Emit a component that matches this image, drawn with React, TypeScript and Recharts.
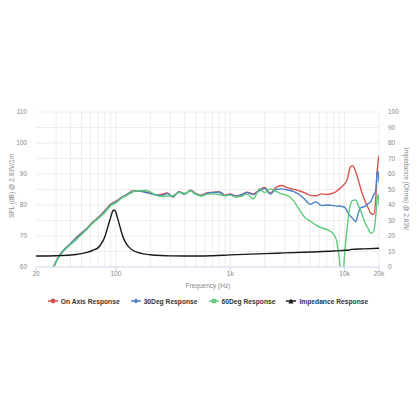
import React from 'react';
import {
  ComposedChart,
  Line,
  XAxis,
  YAxis,
  CartesianGrid,
} from 'recharts';

// frequency response samples (Hz) and SPL readings (dB)
const frFreq = [
  20, 22, 25, 28, 31, 35, 40, 45, 50, 56, 63, 71, 80, 90, 100, 112, 125, 140, 160, 180,
  200, 225, 250, 280, 315, 355, 400, 450, 500, 560, 630, 710, 800, 900, 1000, 1120, 1250,
  1400, 1600, 1800, 2000, 2240, 2500, 2800, 3150, 3550, 4000, 4500, 5000, 5600, 6300, 7100,
  8000, 8500, 9000, 9500, 10000, 10600, 11200, 11800, 12500, 13200, 14000, 15000, 16000,
  17000, 18000, 18700, 19300, 19700, 20000,
];
const onAxis = [
  49, 52, 56, 59.5, 62.8, 65.5, 67.5, 69.5, 71, 72.6, 74.6, 76.2, 78.2, 80.3, 81.2, 82.5, 83.4, 84.5, 84.6, 84.2,
  83.8, 83.2, 83.4, 83.9, 82.6, 84.3, 83.6, 84.8, 83.7, 83.2, 84.0, 84.1, 84.3, 83.2, 83.6, 82.9, 83.3,
  84.1, 83.6, 84.9, 85.7, 83.8, 85.6, 86.3, 85.6, 85.1, 84.6, 83.9, 83.1, 83.0, 83.6, 83.4,
  83.9, 84.4, 85.2, 86.0, 86.8, 88.5, 92.2, 92.7, 90.8, 88.0, 84.7, 81.5, 79.2,
  77.3, 77.0, 81.5, 91.0, 94.5, 96.0,
];
const deg30 = [
  49, 52, 56, 59.5, 62.8, 65.5, 67.5, 69.3, 70.8, 72.4, 74.4, 76, 77.9, 80.1, 81, 82.4, 83.3, 84.4, 84.5, 84.1,
  83.7, 83.3, 83.0, 83.7, 82.7, 84.2, 83.5, 84.7, 83.6, 83.0, 83.8, 84.0, 84.2, 83.0, 83.4, 82.8, 83.3,
  84.0, 83.4, 84.6, 85.3, 83.5, 85.0, 85.2, 84.9, 84.4, 83.4, 81.8, 80.2, 81.0, 79.8, 80.0,
  79.8, 79.6, 79.7, 79.5, 79.3, 77.8, 76.5, 75.6, 74.6, 77.5, 79.2, 79.5, 80.4,
  81.2, 83.3, 84.5, 90.5, 90.8, 87.4,
];
const deg60 = [
  48.5, 51.5, 55.5, 59.2, 62.5, 65.2, 67.2, 68.8, 70.5, 72.2, 74.2, 75.8, 77.6, 79.8, 80.7, 82.2, 83.1, 84.2, 84.6, 84.7,
  84.2, 83.1, 82.8, 82.9, 83.0, 84.0, 83.8, 84.5, 83.4, 82.9, 83.5, 83.6, 83.4, 83.0, 83.2, 82.6, 82.8,
  83.5, 82.0, 85.2, 84.0, 85.2, 84.5, 83.6, 83.1, 81.5, 78.6, 76.0, 74.8, 73.6, 72.6, 72.0,
  70.6, 68.5, 62.5, 53.0, 64.0, 73.5, 79.8, 81.5, 81.6, 79.8, 77.7, 74.5, 72.5,
  70.9, 71.5, 76.1, 82.5, 83.3, 79.8,
];

// impedance samples (Hz) and readings (Ohms)
const impFreq = [
  20, 30, 40, 45, 50, 56, 63, 70, 76, 80, 85, 90, 93, 96, 99, 103, 108, 114, 120, 130,
  140, 155, 170, 200, 250, 300, 400, 550, 700, 1000, 1500, 2000, 3000, 5000, 8000, 10000,
  11000, 11500, 15000, 20000,
];
const impedance = [
  7.1, 7.3, 7.7, 8.1, 8.6, 9.4, 10.8, 12.5, 16, 19.5, 26, 32, 35.5, 36.8, 36, 32, 26.5, 20.5, 16.5, 12.8,
  10.8, 9.4, 8.6, 7.9, 7.4, 7.2, 7.1, 7.1, 7.3, 7.8, 8.3, 8.6, 9.1, 9.7, 10.3, 10.8,
  11.0, 11.4, 11.7, 12.1,
];

const xTicks = [20, 100, 1000, 10000, 20000];
const splTicks = [60, 70, 80, 90, 100, 110];
const ohmTicks = [0, 10, 20, 30, 40, 50, 60, 70, 80, 90, 100];
const gridFreqs = [
  30, 40, 50, 60, 70, 80, 90, 100, 200, 300, 400, 500, 600, 700, 800, 900, 1000,
  2000, 3000, 4000, 5000, 6000, 7000, 8000, 9000, 10000, 20000,
];
const gridSpl = [65, 70, 75, 80, 85, 90, 95, 100, 105, 110];

const series = [
  { name: 'On Axis Response', color: '#d9534f', values: onAxis, shape: 'circle' },
  { name: '30Deg Response', color: '#4a80c6', values: deg30, shape: 'diamond' },
  { name: '60Deg Response', color: '#5ccb7a', values: deg60, shape: 'square' },
];
const impColor = '#1a1a1a';

const font = '"Liberation Sans", Arial, sans-serif';
const tickStyle = { fill: '#888', fontSize: 6.5, fontFamily: font };

const fmtFreq = (v: number) => (v >= 1000 ? `${v / 1000}k` : `${v}`);

const Marker = ({ color, shape }: { color: string; shape: string }) => (
  <svg width={10} height={8} style={{ marginRight: 3 }}>
    <line x1={0} y1={4} x2={10} y2={4} stroke={color} strokeWidth={1.5} />
    {shape === 'circle' && <circle cx={5} cy={4} r={2.4} fill={color} />}
    {shape === 'diamond' && <path d="M5 1.4 L7.6 4 L5 6.6 L2.4 4 Z" fill={color} />}
    {shape === 'square' && <rect x={2.8} y={1.8} width={4.4} height={4.4} fill={color} />}
    {shape === 'triangle' && <path d="M5 1.4 L7.6 6.4 L2.4 6.4 Z" fill={color} />}
  </svg>
);

const App: React.FC = () => {
  const lines = series.map(s => ({
    ...s,
    data: frFreq.map((f, i) => ({ f, v: s.values[i] })),
  }));
  const impData = impFreq.map((f, i) => ({ f, v: impedance[i] }));
  const legendItems = [
    ...series.map(s => ({ name: s.name, color: s.color, shape: s.shape })),
    { name: 'Impedance Response', color: impColor, shape: 'triangle' },
  ];

  return (
    <div style={{ position: 'absolute', left: 0, top: 0, width: 416, height: 416, background: '#fff', fontFamily: font }}>
      <ComposedChart width={416} height={416} margin={{ top: 112, right: 0, bottom: 119, left: 0 }}>
        <CartesianGrid
          xAxisId="x"
          yAxisId="spl"
          stroke="#ededed"
          strokeWidth={1}
          verticalValues={gridFreqs}
          horizontalValues={gridSpl}
        />
        <XAxis
          xAxisId="x"
          type="number"
          dataKey="f"
          scale="log"
          domain={[20, 20000]}
          allowDataOverflow
          ticks={xTicks}
          tickFormatter={fmtFreq}
          height={30}
          tickSize={4}
          tickMargin={0}
          stroke="#ccd6eb"
          tick={tickStyle}
          interval={0}
        />
        <YAxis
          yAxisId="spl"
          orientation="left"
          domain={[60, 110]}
          allowDataOverflow
          ticks={splTicks}
          width={36}
          axisLine={false}
          tickLine={false}
          tickSize={0}
          tickMargin={9}
          tick={tickStyle}
          interval={0}
        />
        <YAxis
          yAxisId="ohm"
          orientation="right"
          domain={[0, 100]}
          allowDataOverflow
          ticks={ohmTicks}
          width={37}
          axisLine={false}
          tickLine={false}
          tickSize={0}
          tickMargin={9}
          tick={tickStyle}
          interval={0}
        />
        {lines.map(s => (
          <Line
            key={s.name}
            xAxisId="x"
            yAxisId="spl"
            data={s.data}
            dataKey="v"
            type="monotone"
            stroke={s.color}
            strokeWidth={1.4}
            dot={false}
            isAnimationActive={false}
          />
        ))}
        <Line
          xAxisId="x"
          yAxisId="ohm"
          data={impData}
          dataKey="v"
          type="monotone"
          stroke={impColor}
          strokeWidth={1.4}
          dot={false}
          isAnimationActive={false}
        />
      </ComposedChart>

      {/* axis titles */}
      <div style={{ position: 'absolute', left: 208, top: 285, transform: 'translate(-50%, -50%)', fontSize: 6.5, color: '#888', whiteSpace: 'nowrap' }}>
        Frequency (Hz)
      </div>
      <div style={{ position: 'absolute', left: 11, top: 186, transform: 'translate(-50%, -50%) rotate(-90deg)', fontSize: 6.5, color: '#888', whiteSpace: 'nowrap' }}>
        SPL (dB) @ 2.83V/1m
      </div>
      <div style={{ position: 'absolute', left: 406, top: 189, transform: 'translate(-50%, -50%) rotate(90deg)', fontSize: 6.5, color: '#888', whiteSpace: 'nowrap' }}>
        Impedance (Ohms) @ 2.83V
      </div>

      {/* legend */}
      <div style={{ position: 'absolute', left: 0, width: 416, top: 297, display: 'flex', justifyContent: 'center', gap: 11 }}>
        {legendItems.map(it => (
          <div key={it.name} style={{ display: 'flex', alignItems: 'center', fontSize: 6.7, fontWeight: 'bold', color: '#333', whiteSpace: 'nowrap' }}>
            <Marker color={it.color} shape={it.shape} />
            {it.name}
          </div>
        ))}
      </div>
    </div>
  );
};

export default App;
